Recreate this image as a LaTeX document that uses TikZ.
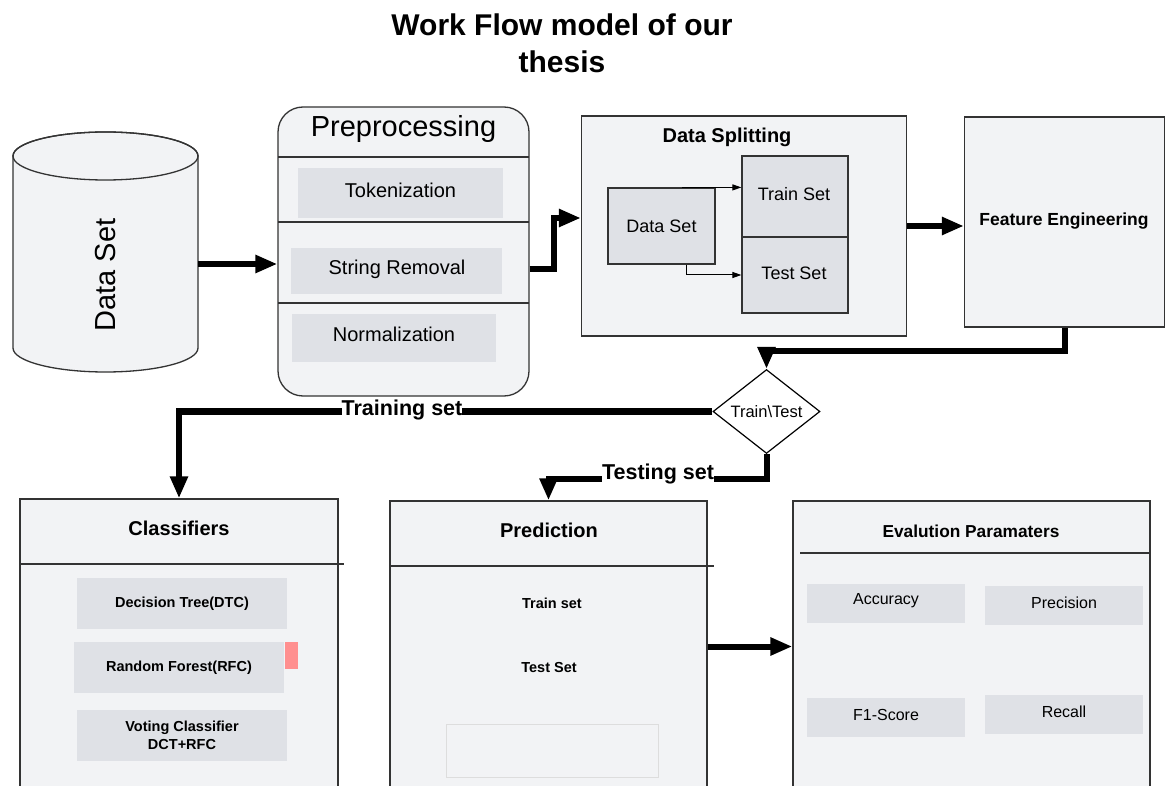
\documentclass[tikz,border=0pt]{standalone}
\usepackage{fontspec}
\setmainfont{Liberation Sans}
\usetikzlibrary{arrows.meta,shapes.geometric}
\definecolor{boxfill}{HTML}{F2F3F5}
\definecolor{innerfill}{HTML}{DFE1E6}
\definecolor{edgec}{HTML}{333333}
\definecolor{pinkc}{HTML}{FF8F8F}
\definecolor{faintc}{HTML}{DDDDDD}
\newcommand{\fsz}[2]{\fontsize{#1pt}{#2pt}\selectfont}
\begin{document}
\begin{tikzpicture}[x=1pt,y=-1pt,
  panel/.style={draw=edgec,line width=1.3pt,fill=boxfill,inner sep=0pt},
  innerbox/.style={fill=innerfill,inner sep=0pt},
  big/.style={line width=6pt,-{Triangle[length=22pt,width=17pt]}},
  small/.style={line width=1pt,-{Triangle[length=9pt,width=6pt]}},
  lbl/.style={inner sep=0pt,font=\fsz{21.5}{26}\bfseries,fill=white}
 ]
\clip (0,0) rectangle (1168,786);
\fill[white] (0,0) rectangle (1168,786);

% title
\node[align=center,font=\fsz{30}{37}\bfseries] (title) at (562,43.5) {Work Flow model of our\\thesis};

% cylinder
\filldraw[draw=edgec,line width=1.3pt,fill=boxfill]
  (13,156) -- (13,348) arc[start angle=180,end angle=0,x radius=92.5,y radius=24]
  -- (198,156) arc[start angle=0,end angle=-180,x radius=92.5,y radius=24] -- cycle;
\draw[edgec,line width=1.3pt] (105.5,156) ellipse [x radius=92.5,y radius=24];
\node[inner sep=0pt,minimum width=185pt,minimum height=239pt] (ds) at (105.5,252.5) {};
\node[rotate=90,font=\fsz{29}{34}] (dstext) at (105.5,275) {Data Set};

% preprocessing
\node[panel,rounded corners=25pt,minimum width=251pt,minimum height=289pt] (pp) at (403.5,251.5) {};
\node[font=\fsz{29}{34}] (pptitle) at (403.5,129) {Preprocessing};
\draw[edgec,line width=1.3pt] (278,157) -- (529,157);
\draw[edgec,line width=1.3pt] (278,222) -- (529,222);
\draw[edgec,line width=1.3pt] (278,303) -- (529,303);
\node[innerbox,minimum width=205pt,minimum height=50pt] (tok) at (400.5,193) {};
\node[font=\fsz{20}{24}] (toktext) at (400.5,190) {Tokenization};
\node[innerbox,minimum width=211pt,minimum height=46pt] (str) at (396.5,271) {};
\node[font=\fsz{20}{24}] (strtext) at (397,269) {String Removal};
\node[innerbox,minimum width=204pt,minimum height=48pt] (nor) at (394,338) {};
\node[font=\fsz{20}{24}] (nortext) at (394,334) {Normalization};

% data splitting
\node[panel,minimum width=325pt,minimum height=220pt] (dsp) at (744,226) {};
\node[font=\fsz{20}{24}\bfseries] (dsptitle) at (727,137) {Data Splitting};
\node[draw=edgec,line width=1.2pt,fill=innerfill,inner sep=0pt,minimum width=107pt,minimum height=76pt,font=\fsz{18}{22}] (dsin) at (661.5,226) {Data Set};
\node[draw=edgec,line width=1.2pt,fill=innerfill,inner sep=0pt,minimum width=106pt,minimum height=81pt] (train) at (795,196.5) {};
\node[font=\fsz{18}{22}] (traintext) at (794,194) {Train Set};
\node[draw=edgec,line width=1.2pt,fill=innerfill,inner sep=0pt,minimum width=106pt,minimum height=76pt] (test) at (795,275) {};
\node[font=\fsz{18}{22}] (testtext) at (794,273) {Test Set};
\draw[small] ([xshift=20.5pt]dsin.north) -- (dsin.north -| train.west);
\draw[small] ([xshift=24.5pt]dsin.south) |- (test.west);

% feature engineering
\node[panel,minimum width=200pt,minimum height=210pt] (fe) at (1064.5,222) {};
\node[font=\fsz{17.5}{21}\bfseries] (fetext) at (1064,221) {Feature Engineering};

% diamond
\node[diamond,draw=black,line width=1.2pt,fill=white,inner sep=0pt,minimum width=107pt,minimum height=79pt,font=\fsz{16.5}{20}] (dia) at (766.5,411.5) {Train\textbackslash Test};

% classifiers
\node[panel,minimum width=318pt,minimum height=300pt] (clf) at (179,649) {};
\draw[edgec,line width=1.3pt] (20,564) -- (344,564);
\node[font=\fsz{20}{24}\bfseries] (clftitle) at (179,528) {Classifiers};
\node[innerbox,minimum width=210pt,minimum height=51pt,font=\fsz{14.5}{18}\bfseries] (dtc) at (182,603.5) {Decision Tree(DTC)};
\node[innerbox,minimum width=210pt,minimum height=51pt,font=\fsz{14.5}{18}\bfseries] (rfc) at (179,667.5) {Random Forest(RFC)};
\node[fill=pinkc,inner sep=0pt,minimum width=13pt,minimum height=27pt] (pink) at (291.5,655.5) {};
\node[innerbox,minimum width=210pt,minimum height=51pt,align=center,font=\fsz{14.5}{18}\bfseries] (vote) at (182,735.5) {Voting Classifier\\DCT+RFC};

% prediction
\node[panel,minimum width=317pt,minimum height=300pt] (pred) at (548.5,651) {};
\draw[edgec,line width=1.3pt] (390,566) -- (714,566);
\node[font=\fsz{20}{24}\bfseries] (predtitle) at (549,530) {Prediction};
\node[font=\fsz{14.5}{18}\bfseries] (ptrain) at (552,603) {Train set};
\node[font=\fsz{14.5}{18}\bfseries] (ptest) at (549,668) {Test Set};
\node[draw=faintc,line width=1pt,fill=boxfill,inner sep=0pt,minimum width=212pt,minimum height=53pt] (pempty) at (552,750.5) {};

% evaluation
\node[panel,minimum width=357pt,minimum height=300pt] (eval) at (971.5,651) {};
\draw[edgec,line width=1.3pt] (800,553) -- (1150,553);
\node[font=\fsz{17.3}{21}\bfseries] (evaltitle) at (971,531) {Evalution Paramaters};
\node[innerbox,minimum width=158pt,minimum height=39pt] (acc) at (886,603.5) {};
\node[font=\fsz{16}{20}] (acctext) at (886,601) {Accuracy};
\node[innerbox,minimum width=158pt,minimum height=39pt] (prec) at (1064,605.5) {};
\node[font=\fsz{16}{20}] (prectext) at (1064,603) {Precision};
\node[innerbox,minimum width=158pt,minimum height=39pt] (f1) at (886,717.5) {};
\node[font=\fsz{16}{20}] (f1text) at (886,715) {F1-Score};
\node[innerbox,minimum width=158pt,minimum height=39pt] (rec) at (1064,714.5) {};
\node[font=\fsz{16}{20}] (rectext) at (1064,712) {Recall};

% connectors
\draw[big] ([yshift=-11.5pt]ds.east) -- ([yshift=-12.5pt]pp.west);
\draw[big] ([yshift=-17.5pt]pp.east) -- ++(24,0) |- ([yshift=8pt]dsp.west);
\draw[big] (dsp.east) -- (dsp.east -| fe.west);
\draw[big] (fe.south) -- ++(0,23) -| (dia.north);
\draw[big] (dia.west) -| (clf.north);
\draw[big] (dia.south) -- ++(0,25) -| (pred.north);
\draw[big] ([yshift=4.5pt]pred.east) -- ([yshift=4.5pt]eval.west);
\node[lbl] (trlbl) at (402,410) {Training set};
\node[lbl] (telbl) at (658,474) {Testing set};
\end{tikzpicture}
\end{document}
